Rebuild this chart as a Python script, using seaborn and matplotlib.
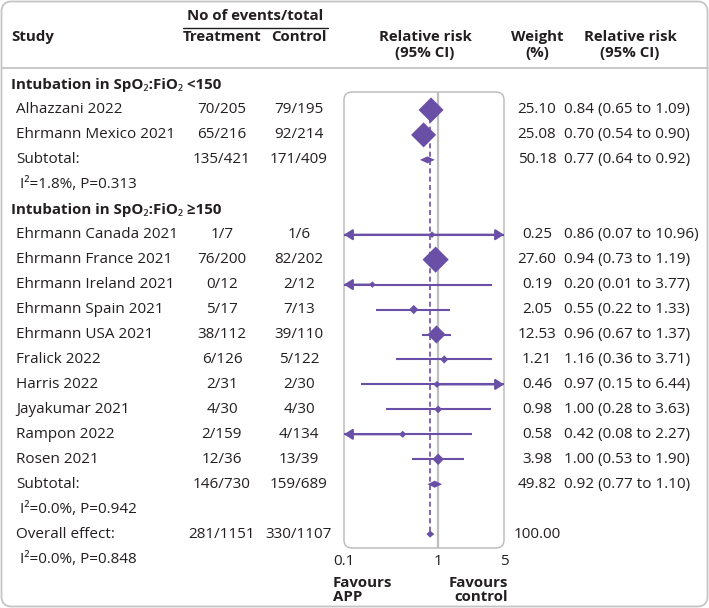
import matplotlib
matplotlib.use("Agg")
import matplotlib.pyplot as plt
import seaborn as sns
import pandas as pd
import numpy as np
from matplotlib.patches import FancyBboxPatch

sns.set_theme(style="white")
plt.rcParams['font.family'] = ['Open Sans', 'Noto Sans', 'DejaVu Sans']

# ---------------- data ----------------
group_titles = ["Intubation in SpO\u2082:FiO\u2082 <150", "Intubation in SpO\u2082:FiO\u2082 \u2265150"]

study_names = ["Alhazzani 2022", "Ehrmann Mexico 2021",
               "Ehrmann Canada 2021", "Ehrmann France 2021", "Ehrmann Ireland 2021",
               "Ehrmann Spain 2021", "Ehrmann USA 2021", "Fralick 2022", "Harris 2022",
               "Jayakumar 2021", "Rampon 2022", "Rosen 2021"]
study_group = [0, 0, 1, 1, 1, 1, 1, 1, 1, 1, 1, 1]
treat_events = [70, 65, 1, 76, 0, 5, 38, 6, 2, 4, 2, 12]
treat_total = [205, 216, 7, 200, 12, 17, 112, 126, 31, 30, 159, 36]
ctrl_events = [79, 92, 1, 82, 2, 7, 39, 5, 2, 4, 4, 13]
ctrl_total = [195, 214, 6, 202, 12, 13, 110, 122, 30, 30, 134, 39]
weights = [25.10, 25.08, 0.25, 27.60, 0.19, 2.05, 12.53, 1.21, 0.46, 0.98, 0.58, 3.98]
rr = [0.84, 0.70, 0.86, 0.94, 0.20, 0.55, 0.96, 1.16, 0.97, 1.00, 0.42, 1.00]
rr_lo = [0.65, 0.54, 0.07, 0.73, 0.01, 0.22, 0.67, 0.36, 0.15, 0.28, 0.08, 0.53]
rr_hi = [1.09, 0.90, 10.96, 1.19, 3.77, 1.33, 1.37, 3.71, 6.44, 3.63, 2.27, 1.90]

sub_treat = ["135/421", "146/730"]
sub_ctrl = ["171/409", "159/689"]
sub_weight = [50.18, 49.82]
sub_rr = [0.77, 0.92]
sub_lo = [0.64, 0.77]
sub_hi = [0.92, 1.10]
sub_het = ["I\u00b2=1.8%, P=0.313", "I\u00b2=0.0%, P=0.942"]

overall_treat = "281/1151"
overall_ctrl = "330/1107"
overall_weight = 100.00
overall_rr, overall_lo, overall_hi = 0.82, 0.75, 0.91
overall_het = "I\u00b2=0.0%, P=0.848"

x_ticks = [0.1, 1, 5]
x_tick_labels = ["0.1", "1", "5"]

# ---------------- layout helpers ----------------
PURPLE = "#6a4fa6"
TEXT = "#231f20"
GRAY = "#c4c4c4"
FS = 11.0
FSB = 10.8
W, H = 709, 608
ROW0, DROW = 85.0, 24.95

def ypx(r):
    return ROW0 + DROW * r

study_row = {}
r = 0
sub_rows, het_rows, head_rows = [], [], []
for g in range(2):
    head_rows.append(r); r += 1
    for i, gg in enumerate(study_group):
        if gg == g:
            study_row[i] = r; r += 1
    sub_rows.append(r); r += 1
    het_rows.append(r); r += 1
overall_row = r
overall_het_row = r + 1

fig = plt.figure(figsize=(W / 100, H / 100), dpi=100)
tax = fig.add_axes([0, 0, 1, 1])
tax.set_xlim(0, W)
tax.set_ylim(H, 0)
tax.axis("off")

# outer rounded frame and header separator
tax.add_patch(FancyBboxPatch((1.5, 1.5), W - 3, H - 3,
                             boxstyle="round,pad=0,rounding_size=10",
                             fc="none", ec=GRAY, lw=1.3))
tax.plot([1.5, W - 1.5], [68, 68], color=GRAY, lw=1.3)

# plot panel frame
PX0, PX1, PY0, PY1 = 344, 504, 92, 548
tax.add_patch(FancyBboxPatch((PX0, PY0), PX1 - PX0, PY1 - PY0,
                             boxstyle="round,pad=0,rounding_size=8",
                             fc="none", ec="#bdbdbd", lw=1.1))

# headers
hb = dict(fontsize=FSB, fontweight="bold", color=TEXT, va="center")
tax.text(11, 37, "Study", ha="left", **hb)
tax.text(255, 16, "No of events/total", ha="center", **hb)
tax.plot([183, 328], [27.5, 27.5], color=TEXT, lw=1.0)
tax.text(222, 37, "Treatment", ha="center", **hb)
tax.text(299, 37, "Control", ha="center", **hb)
tax.text(425, 37, "Relative risk", ha="center", **hb)
tax.text(425, 53, "(95% CI)", ha="center", **hb)
tax.text(537, 37, "Weight", ha="center", **hb)
tax.text(537, 53, "(%)", ha="center", **hb)
tax.text(630, 37, "Relative risk", ha="center", **hb)
tax.text(630, 53, "(95% CI)", ha="center", **hb)

tn = dict(fontsize=FS, color=TEXT, va="center")
X_NAME, X_HET, X_HEAD = 16, 20, 11
X_T, X_C, X_W, X_RR = 222, 299, 537, 564

for g in range(2):
    tax.text(X_HEAD, ypx(head_rows[g]), group_titles[g], ha="left", **hb)
    tax.text(X_NAME, ypx(sub_rows[g]), "Subtotal:", ha="left", **tn)
    tax.text(X_T, ypx(sub_rows[g]), sub_treat[g], ha="center", **tn)
    tax.text(X_C, ypx(sub_rows[g]), sub_ctrl[g], ha="center", **tn)
    tax.text(X_W, ypx(sub_rows[g]), f"{sub_weight[g]:.2f}", ha="center", **tn)
    tax.text(X_RR, ypx(sub_rows[g]),
             f"{sub_rr[g]:.2f} ({sub_lo[g]:.2f} to {sub_hi[g]:.2f})", ha="left", **tn)
    tax.text(X_HET, ypx(het_rows[g]), sub_het[g], ha="left", **tn)

for i, name in enumerate(study_names):
    y = ypx(study_row[i])
    tax.text(X_NAME, y, name, ha="left", **tn)
    tax.text(X_T, y, f"{treat_events[i]}/{treat_total[i]}", ha="center", **tn)
    tax.text(X_C, y, f"{ctrl_events[i]}/{ctrl_total[i]}", ha="center", **tn)
    tax.text(X_W, y, f"{weights[i]:.2f}", ha="center", **tn)
    tax.text(X_RR, y, f"{rr[i]:.2f} ({rr_lo[i]:.2f} to {rr_hi[i]:.2f})", ha="left", **tn)

tax.text(X_NAME, ypx(overall_row), "Overall effect:", ha="left", **tn)
tax.text(X_T, ypx(overall_row), overall_treat, ha="center", **tn)
tax.text(X_C, ypx(overall_row), overall_ctrl, ha="center", **tn)
tax.text(X_W, ypx(overall_row), f"{overall_weight:.2f}", ha="center", **tn)
tax.text(X_HET, ypx(overall_het_row), overall_het, ha="left", **tn)

# favours labels
tax.text(333, 583, "Favours", ha="left", **hb)
tax.text(333, 597, "APP", ha="left", **hb)
tax.text(508, 583, "Favours", ha="right", **hb)
tax.text(508, 597, "control", ha="right", **hb)

# ---------------- forest axes ----------------
ax = fig.add_axes([PX0 / W, 1 - PY1 / H, (PX1 - PX0) / W, (PY1 - PY0) / H])
ax.set_facecolor("none")
ax.set_xscale("log")
XMIN, XMAX = 0.1, 5
ax.set_xlim(XMIN, XMAX)
ax.set_ylim((PY1 - ROW0) / DROW, (PY0 - ROW0) / DROW)
for s in ax.spines.values():
    s.set_visible(False)
ax.set_yticks([])
ax.set_xticks(x_ticks)
ax.set_xticklabels(x_tick_labels)
ax.minorticks_off()
ax.tick_params(axis="x", length=0, pad=4, labelsize=FS, labelcolor=TEXT)

ax.axvline(1, color="#bfbfbf", lw=1.6, zorder=1)
ax.vlines(overall_rr, study_row[0], overall_row, color=PURPLE, lw=1.2,
          linestyles=(0, (3, 2)), zorder=1)

df = pd.DataFrame({"rr": rr, "lo": rr_lo, "hi": rr_hi, "w": weights,
                   "row": [study_row[i] for i in range(len(study_names))]})

# confidence intervals (clipped with arrows)
for _, d in df.iterrows():
    lo_c, hi_c = max(d.lo, XMIN), min(d.hi, XMAX)
    ax.hlines(d.row, lo_c, hi_c, color=PURPLE, lw=1.5, zorder=2)
    for end, clipped in ((XMIN, d.lo < XMIN), (XMAX, d.hi > XMAX)):
        if clipped:
            ax.annotate("", xy=(end, d.row), xytext=(d.rr, d.row),
                        arrowprops=dict(arrowstyle="-|>,head_length=0.5,head_width=0.32",
                                        color=PURPLE, lw=1.5, shrinkA=0, shrinkB=0,
                                        mutation_scale=10),
                        annotation_clip=False, zorder=2)

sns.scatterplot(data=df, x="rr", y="row", size="w", sizes=(11, 178),
                size_norm=(0.19, 27.6), marker="D", color=PURPLE, linewidth=0,
                legend=False, ax=ax, zorder=3)
ax.set_xlabel("")
ax.set_ylabel("")

# summary diamonds
HALF = 0.14
sum_est = sub_rr + [overall_rr]
sum_lo = sub_lo + [overall_lo]
sum_hi = sub_hi + [overall_hi]
sum_row = sub_rows + [overall_row]
for e, lo, hi, rw in zip(sum_est, sum_lo, sum_hi, sum_row):
    ax.fill([lo, e, hi, e], [rw, rw - HALF, rw, rw + HALF], color=PURPLE, lw=0, zorder=3)

fig.savefig("out.png", dpi=100)
